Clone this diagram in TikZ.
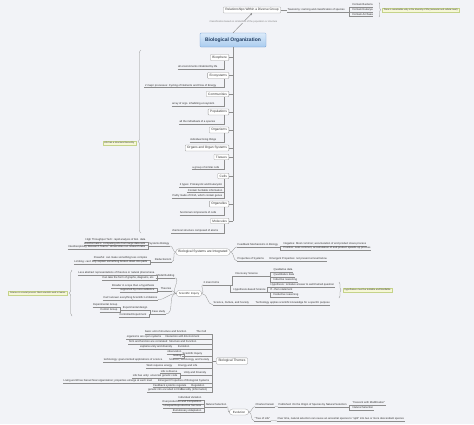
\documentclass[tikz,border=0pt]{standalone}
\usepackage{fontspec}
\setmainfont{Liberation Sans}
\usetikzlibrary{arrows.meta,decorations.pathreplacing,calc}
\definecolor{bgc}{HTML}{F2F3F7}
\definecolor{linec}{HTML}{8E8E8E}
\definecolor{boxc}{HTML}{9A9A9A}
\definecolor{txtc}{HTML}{333333}
\definecolor{notefill}{HTML}{F6F7D8}
\definecolor{notedraw}{HTML}{C5D38A}
\definecolor{bioT}{HTML}{DCEBFA}
\definecolor{bioBot}{HTML}{A9CBEE}
\definecolor{bioD}{HTML}{6C9BD2}
\definecolor{bioTxt}{HTML}{1E3A5E}
\definecolor{relc}{HTML}{6F6F6F}
\newcommand\kidlink[2]{\draw[conn] (#2.south east) -| ([xshift=-5pt]#1.south east);}
\newcommand\spinelink[1]{\draw[conn] (#1.east) -- (#1.east -| bio.south);}
\newcommand\llinkx[2]{\draw[conn] (#1.south west) -| ([xshift=2.5pt]#2.south east) -- (#2.south east);}
\newcommand\rlinkx[2]{\draw[conn] (#1.south east) -| ([xshift=-2.5pt]#2.south west) -- (#2.south west);}
\begin{document}
\begin{tikzpicture}[x=1pt,y=-1pt,
  base/.style={font=\fontsize{2.7}{3.1}\selectfont, text=txtc, inner sep=0.45pt},
  conn/.style={draw=linec, line width=0.28pt},
  ul/.style={base, append after command={(\tikzlastnode.south west) edge[conn] (\tikzlastnode.south east)}},
  box/.style={base, font=\fontsize{3.2}{3.6}\selectfont, draw=boxc, fill=white, rounded corners=0.8pt, line width=0.28pt, inner xsep=2pt, inner ysep=1.6pt},
  oval/.style={base, font=\fontsize{3}{3.5}\selectfont, draw=boxc, fill=white, rounded corners=3pt, line width=0.28pt, inner xsep=2.5pt, inner ysep=1.8pt},
  notebox/.style={base, font=\fontsize{#1}{#1}\selectfont, fill=notefill, draw=notedraw, line width=0.25pt, inner xsep=1.5pt, inner ysep=1pt},
  notebox/.default=2.3,
  bracec/.style={conn, decorate, decoration={brace, amplitude=#1}},
  bracec/.default=2pt,
  rel/.style={draw=relc, line width=0.3pt, -{Stealth[length=2.2pt,width=1.8pt]}}
]
\fill[bgc] (0,0) rectangle (474,424);
\useasboundingbox (0,0) rectangle (474,424);

% ---------- top ----------
\node[draw=bioD, top color=bioT, bottom color=bioBot, rounded corners=1pt, line width=0.35pt,
  font=\bfseries\fontsize{5}{6}\selectfont, text=bioTxt, minimum width=66pt, minimum height=14pt, inner sep=1pt] (bio) at (233,40) {Biological Organization};
\node[box] (relg) at (252,10) {Relationships Within a Diverse Group};
\draw[rel] (bio.north) -- (relg.south) node[pos=0.55, fill=bgc, inner sep=0.3pt, font=\fontsize{2.4}{2.8}\selectfont, text=relc!90] (clab) {Classification based on similarities of the population or structure};
\node[ul, anchor=west] (tax) at (287,10) {Taxonomy: naming and classification of species};
\draw[conn] (relg.east) -- (tax.west);
\node[ul, anchor=west] (dom1) at (352,5) {Domain Bacteria};
\node[ul, anchor=west] (dom2) at (352,9.8) {Domain Eukarya};
\node[ul, anchor=west] (dom3) at (352,14.5) {Domain Archaea};
\rlinkx{tax}{dom1}\rlinkx{tax}{dom2}\rlinkx{tax}{dom3}
\draw[bracec=1.5pt] (379,2.5) -- (379,17);
\node[notebox=2.2, anchor=west] (note1) at (382,10) {There is remarkable unity in the diversity of life (molecular and cellular level)};

% ---------- organization cascade ----------
\node[box,anchor=east] (bsp) at (229,57.5) {Biosphere};
\node[ul,anchor=east] (bsp1) at (218,67) {all environments inhabited by life};
\node[box,anchor=east] (eco) at (229,75.5) {Ecosystems};
\node[ul,anchor=east] (eco1) at (217,85.5) {2 major processes: Cycling of Nutrients and Flow of Energy};
\node[box,anchor=east] (com) at (229,94) {Communities};
\node[ul,anchor=east] (com1) at (215,104) {array of orgs. inhabiting ecosystem};
\node[box,anchor=east] (pop) at (229,112) {Populations};
\node[ul,anchor=east] (pop1) at (216,122) {all the individuals of a species};
\node[box,anchor=east] (org) at (229,130) {Organisms};
\node[ul,anchor=east] (org1) at (217,140) {individual living things};
\node[box,anchor=east] (oos) at (229,148) {Organs and Organ Systems};
\node[box,anchor=east] (tis) at (229,157) {Tissues};
\node[ul,anchor=east] (tis1) at (220,167.5) {a group of similar cells};
\node[box,anchor=east] (cel) at (229,176) {Cells};
\node[ul,anchor=east] (cel1) at (223,185) {2 types: Prokaryotic and Eukaryotic};
\node[ul,anchor=east] (cel2) at (223,190.5) {Contain heritable information};
\node[ul,anchor=east] (cel3) at (223,196) {Partly made of DNA, which contain genes};
\node[box,anchor=east] (orgl) at (229,204) {Organelles};
\node[ul,anchor=east] (orgl1) at (217,213) {functional components of cells};
\node[box,anchor=east] (mol) at (229,221) {Molecules};
\node[ul,anchor=east] (mol1) at (219,231) {chemical structure composed of atoms};
\draw[conn] (bio.south) -- (bio.south |- mol.east);
\foreach \b in {bsp,eco,com,pop,org,oos,tis,cel,orgl,mol} {\spinelink{\b}}
\kidlink{bsp}{bsp1}\kidlink{eco}{eco1}\kidlink{com}{com1}\kidlink{pop}{pop1}
\kidlink{org}{org1}\kidlink{tis}{tis1}\kidlink{cel}{cel1}\kidlink{cel}{cel2}
\kidlink{cel}{cel3}\kidlink{orgl}{orgl1}\kidlink{mol}{mol1}
\draw[bracec=3pt] (141,233) -- (141,50);
\node[notebox, anchor=east] (note2) at (136,143) {Life has a structural hierarchy};

% ---------- biological systems ----------
\node[oval, font=\fontsize{3.3}{3.8}\selectfont] (bsi) at (203,252) {Biological Systems are Integrated};
\node[ul,anchor=east] (sysb) at (170,244) {Systems Biology};
\node[ul,anchor=east] (red) at (172,260) {Reductionism};
\draw[conn] (bsi.west) to[out=180,in=0] (sysb.south east);
\draw[conn] (bsi.west) to[out=180,in=0] (red.south east);
\node[ul,anchor=east] (sb1) at (146,240) {High Throughput Tech: rapid analysis of biol. data};
\node[ul,anchor=east] (sb2) at (146,243.5) {Bioinformatics: computing info from large data sets};
\node[ul,anchor=east] (sb3) at (146,247) {Interdisciplinary Research Teams: Universities run research labs};
\llinkx{sysb}{sb1}\llinkx{sysb}{sb2}\llinkx{sysb}{sb3}
\node[ul,anchor=east] (rd1) at (148,258) {Powerful: can make something less complex};
\node[ul,anchor=east] (rd2) at (148,262) {Limiting: can't fully explain something broken down into parts};
\llinkx{red}{rd1}\llinkx{red}{rd2}
\node[ul,anchor=west] (fb) at (237,245) {Feedback Mechanisms in Biology};
\node[ul,anchor=west] (prop) at (237,259) {Properties of Systems};
\draw[conn] (bsi.east) to[out=0,in=180] (fb.south west);
\draw[conn] (bsi.east) to[out=0,in=180] (prop.south west);
\node[ul,anchor=west] (fb1) at (283,244) {Negative: Most common; accumulation of end product slows process};
\node[ul,anchor=west] (fb2) at (283,248) {Positive: Less common; accumulation of end product speeds up process};
\rlinkx{fb}{fb1}\rlinkx{fb}{fb2}
\node[ul,anchor=west] (pr1) at (269,259) {Emergent Properties: not present at level below};
\draw[conn] (prop.south east) -- (pr1.south west);

% ---------- scientific inquiry ----------
\node[oval, font=\fontsize{2.8}{3.3}\selectfont] (sci) at (189,293.5) {Scientific Inquiry};
\node[ul,anchor=east] (mb) at (175,276) {Model Building};
\node[ul,anchor=east] (th) at (172,289) {Theories};
\node[ul,anchor=east] (sl) at (158,298) {Scientific Limitations};
\node[ul,anchor=east] (cs) at (166,312) {Case study};
\foreach \n in {mb,th,sl,cs} {\draw[conn] (sci.west) to[out=180,in=0] (\n.south east);}
\node[ul,anchor=east] (mb1) at (155,273) {Less abstract representations of theories or natural phenomena};
\node[ul,anchor=east] (mb2) at (155,278) {Can take the form of graphs, diagrams, etc.};
\llinkx{mb}{mb1}\llinkx{mb}{mb2}
\node[ul,anchor=east] (th1) at (155,286) {Broader in scope than a hypothesis};
\node[ul,anchor=east] (th2) at (155,290) {supported by more evidence};
\llinkx{th}{th1}\llinkx{th}{th2}
\node[ul,anchor=east] (sl1) at (133,298) {Can't answer everything};
\draw[conn] (sl.south west) -- (sl1.south east);
\node[ul,anchor=east] (ed) at (148,308) {Experimental design};
\node[ul,anchor=east] (ce) at (147,315) {Controlled Experiment};
\llinkx{cs}{ed}\llinkx{cs}{ce}
\node[ul,anchor=east] (eg) at (118,305) {Experimental Group};
\node[ul,anchor=east] (cg) at (118,310) {Control Group};
\llinkx{ed}{eg}\llinkx{ed}{cg}
\draw[bracec=2.5pt] (72,316) -- (72,270);
\node[notebox=2.15, anchor=east] (note3) at (67.5,293) {Science is a social process. Most scientists work in teams.};
\node[ul,anchor=west] (mf) at (203,283) {2 main forms};
\node[ul,anchor=west] (scs) at (213,303) {Science, Culture, and Society};
\draw[conn] (sci.east) to[out=0,in=180] (mf.south west);
\draw[conn] (sci.east) to[out=0,in=180] (scs.south west);
\node[ul,anchor=west] (ds) at (235,274) {Discovery Science};
\node[ul,anchor=west] (hb) at (233,290) {Hypothesis-based Science};
\rlinkx{mf}{ds}\rlinkx{mf}{hb}
\node[ul,anchor=west] (ds1) at (273,270) {Qualitative data};
\node[ul,anchor=west] (ds2) at (273,275) {Quantitative data};
\node[ul,anchor=west] (ds3) at (273,280) {Inductive reasoning};
\rlinkx{ds}{ds1}\rlinkx{ds}{ds2}\rlinkx{ds}{ds3}
\node[ul,anchor=west] (hb1) at (270,285) {Hypothesis: tentative answer to well-framed question};
\node[ul,anchor=west] (hb2) at (270,290) {If...then statement};
\node[ul,anchor=west] (hb3) at (273,295) {Deductive reasoning};
\rlinkx{hb}{hb1}\rlinkx{hb}{hb2}\rlinkx{hb}{hb3}
\draw[bracec=2pt] (339,282) -- (339,298);
\node[notebox=2.4, anchor=west] (note4) at (343,290) {hypotheses must be testable and falsifiable};
\node[ul,anchor=west] (scs1) at (255,303) {Technology applies scientific knowledge for a specific purpose};
\draw[conn] (scs.south east) -- (scs1.south west);

% ---------- biological themes ----------
\node[box, font=\fontsize{3.3}{3.8}\selectfont] (bt) at (232,361) {Biological Themes};
\coordinate (tv) at (212,361);
\draw[conn] (tv) -- (bt.west);
\node[ul,anchor=east] (t1) at (207,332) {The Cell};
\node[ul,anchor=east] (t2) at (200,337) {Interaction with Environment};
\node[ul,anchor=east] (t3) at (197,342) {Structure and Function};
\node[ul,anchor=east] (t4) at (190,347) {Evolution};
\node[ul,anchor=east] (t5) at (203,354) {Scientific Inquiry};
\node[ul,anchor=east] (t6) at (210,360) {Science, Technology, and Society};
\node[ul,anchor=east] (t7) at (198,366) {Energy and Life};
\node[ul,anchor=east] (t8) at (207,373) {Unity and Diversity};
\node[ul,anchor=east] (t9) at (210,381) {Emergent Properties of Biological Systems};
\node[ul,anchor=east] (t10) at (205,385.5) {Regulation};
\node[ul,anchor=east] (t11) at (208,390) {Heredity (Information)};
\foreach \t in {t1,t2,t3,t4,t5,t6,t7,t8,t9,t10,t11} {\draw[conn] (\t.south east) -| (tv);}
\node[ul,anchor=east] (t1a) at (187,332) {basic unit of structure and function};
\node[ul,anchor=east] (t2a) at (162,337) {organisms are open systems};
\node[ul,anchor=east] (t3a) at (168,342) {form and function are correlated};
\node[ul,anchor=east] (t4a) at (173,347) {explains unity and diversity};
\node[ul,anchor=east] (t5a) at (182,352) {observation};
\node[ul,anchor=east] (t5b) at (182,356) {testing};
\node[ul,anchor=east] (t6a) at (163,360) {technology: goal-oriented applications of science};
\node[ul,anchor=east] (t7a) at (173,366) {Work requires energy};
\node[ul,anchor=east] (t8a) at (178,371.5) {Life is diverse};
\node[ul,anchor=east] (t8b) at (178,376) {Life has unity: universal genetic code};
\node[ul,anchor=east] (t9a) at (153,381) {Living world has hierarchical organization; properties emerge at each level};
\node[ul,anchor=east] (t10a) at (187,385.5) {Feedback systems regulate};
\node[ul,anchor=east] (t11a) at (183,390) {genetic info encoded in DNA};
\llinkx{t1}{t1a}\llinkx{t2}{t2a}\llinkx{t3}{t3a}\llinkx{t4}{t4a}
\llinkx{t5}{t5a}\llinkx{t5}{t5b}\llinkx{t6}{t6a}\llinkx{t7}{t7a}
\llinkx{t8}{t8a}\llinkx{t8}{t8b}\llinkx{t9}{t9a}\llinkx{t10}{t10a}\llinkx{t11}{t11a}

% ---------- evolution ----------
\node[oval, inner xsep=3.5pt] (evo) at (239,412) {Evolution};
\node[ul,anchor=east] (ns) at (227,405) {Natural Selection};
\draw[conn] (evo.west) to[out=180,in=0] (ns.south east);
\node[ul,anchor=east] (ns1) at (202,398) {Individual Variation};
\node[ul,anchor=east] (ns2) at (202,402) {Overproduction and Competition};
\node[ul,anchor=east] (ns3) at (202,406) {Unequal Reproductive Success};
\node[ul,anchor=east] (ns4) at (202,410.5) {Evolutionary Adaptation};
\llinkx{ns}{ns1}\llinkx{ns}{ns2}\llinkx{ns}{ns3}\llinkx{ns}{ns4}
\node[ul,anchor=west] (cd) at (255,405) {Charles Darwin};
\node[ul,anchor=west] (tol) at (254,419) {"Tree of Life"};
\draw[conn] (evo.east) to[out=0,in=180] (cd.south west);
\draw[conn] (evo.east) to[out=0,in=180] (tol.south west);
\node[ul,anchor=west] (pub) at (278,405) {Published: On the Origin of Species by Natural Selection};
\draw[conn] (cd.south east) -- (pub.south west);
\node[ul,anchor=west] (pub1) at (352,403) {"Descent with Modification"};
\node[ul,anchor=west] (pub2) at (352,408) {Natural Selection};
\rlinkx{pub}{pub1}\rlinkx{pub}{pub2}
\node[ul,anchor=west] (tol1) at (277,419) {Over time, natural selection can cause an ancestral species to "split" into two or more descendant species};
\draw[conn] (tol.south east) -- (tol1.south west);
\end{tikzpicture}
\end{document}
